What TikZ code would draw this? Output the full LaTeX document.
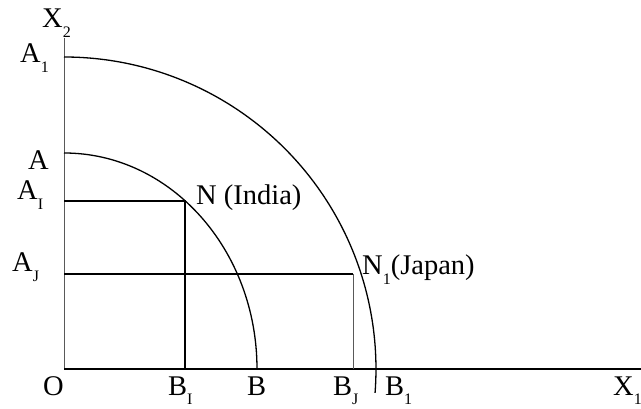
\documentclass[tikz,border=0pt]{standalone}
\usepackage{fontspec}
\setmainfont{Liberation Serif}
\newcommand{\lo}[1]{\raisebox{-10pt}{\fontsize{16}{16}\selectfont #1}}
\newcommand{\lob}[1]{\raisebox{-9pt}{\fontsize{16}{16}\selectfont #1}}
\begin{document}
\begin{tikzpicture}[x=1pt,y=1pt,
	lab/.style={anchor=base west,inner sep=0pt,font=\fontsize{28.5}{30}\selectfont},
	curve/.style={line width=1.3pt},
	thinline/.style={line width=0.8pt,black!65}]
	\useasboundingbox (0,0) rectangle (641,409);
	% points
	\coordinate (O) at (64,40);
	\coordinate (top) at (64,371);
	\coordinate (end) at (641,40);
	\coordinate (A) at (64,256);
	\coordinate (A1) at (64,352);
	\coordinate (N) at (185,208);
	\coordinate (N1) at (353,135);
	% axes
	\draw[thinline] (top) -- (O);
	\draw[line width=1.5pt] (O) -- (end);
	% the two curves
	\draw[curve] (A) arc[start angle=90,end angle=0,x radius=193,y radius=216];
	\draw[curve] (A1) arc[start angle=90,end angle=-4.4,radius=312];
	% India and Japan
	\draw[curve] (O |- N) -- (N) -- (N |- O);
	\draw[curve] (O |- N1) -- (N1);
	\draw[thinline] (N1) -- (N1 |- O);
	% labels
	\node[lab] (lx2) at (42,381) {X\lo{2}};
	\node[lab] (la1) at (20,346) {A\lo{1}};
	\node[lab] (la) at (28,239) {A};
	\node[lab] (lai) at (17,209) {A\lo{I}};
	\node[lab] (laj) at (12,137) {A\lo{J}};
	\node[lab] (lo) at (43,13) {O};
	\node[lab] (lbi) at (168,13) {B\lob{I}};
	\node[lab] (lb) at (247,13) {B};
	\node[lab] (lbj) at (333,13) {B\lob{J}};
	\node[lab] (lb1) at (385,13) {B\lob{1}};
	\node[lab] (lx1) at (613,13) {X\lob{1}};
	\node[lab] (ln) at (196,204) {N (India)};
	\node[lab] (ln1) at (362,134) {N\lo{1}(Japan)};
\end{tikzpicture}
\end{document}
